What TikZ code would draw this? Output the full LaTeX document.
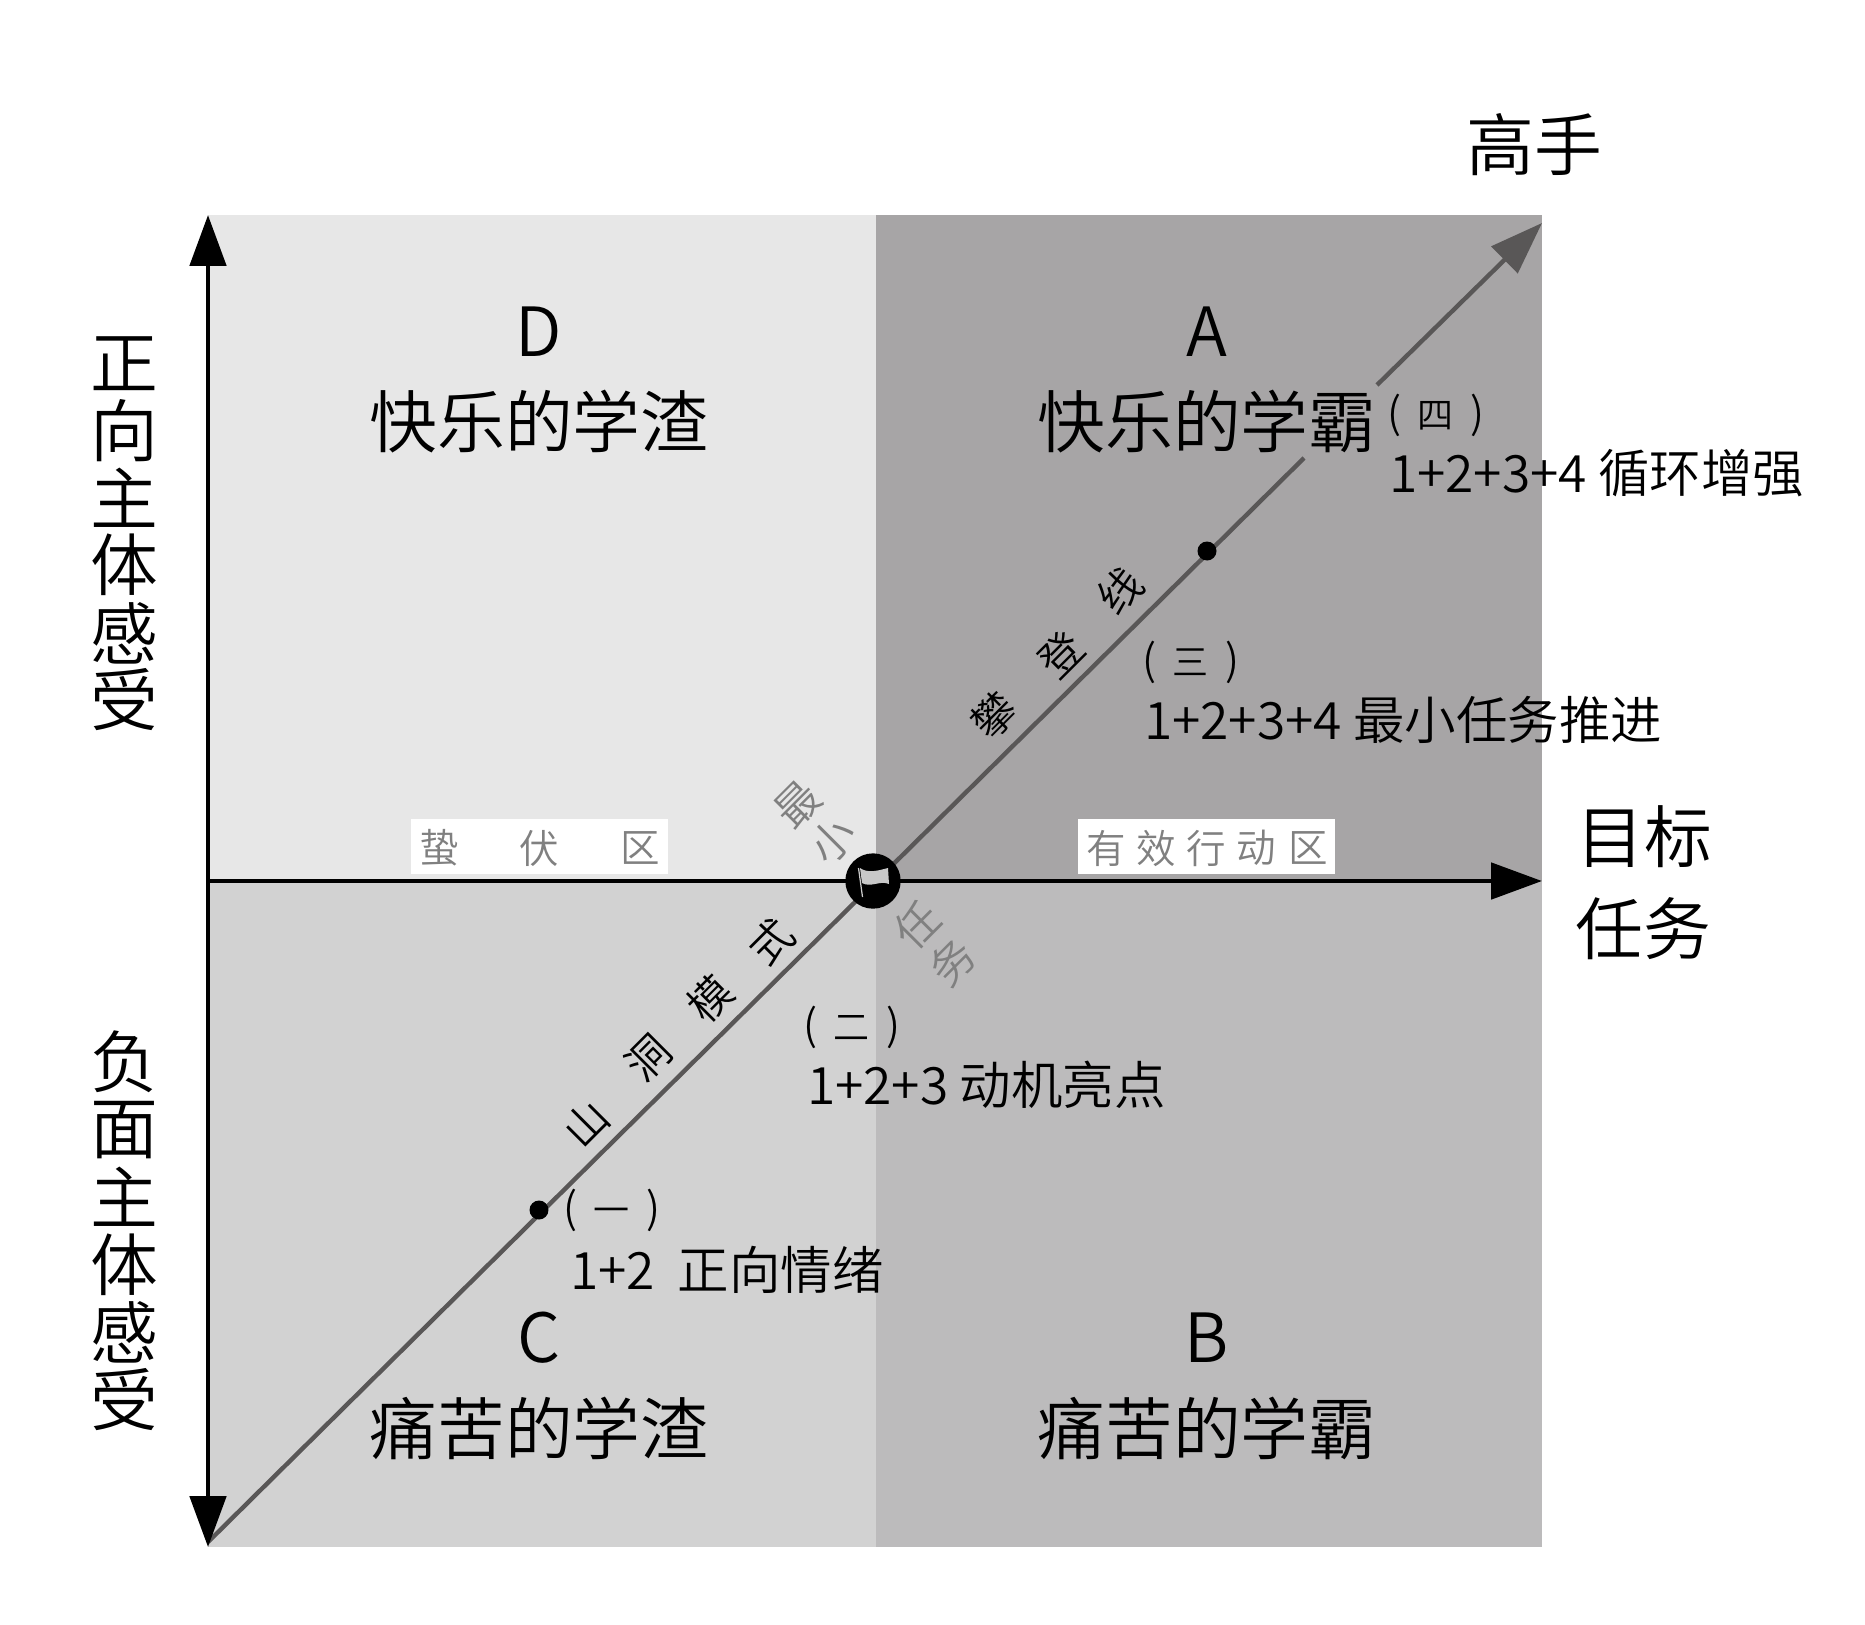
\documentclass[tikz,border=0pt]{standalone}
\usepackage{fontspec}
\usetikzlibrary{arrows.meta}
\setmainfont{Noto Sans CJK SC DemiLight}
\definecolor{qD}{HTML}{E7E7E7}
\definecolor{qA}{HTML}{A7A5A6}
\definecolor{qC}{HTML}{D2D2D2}
\definecolor{qB}{HTML}{BCBBBC}
\definecolor{diag}{HTML}{595757}
\definecolor{lab}{HTML}{808080}
\definecolor{flagcol}{HTML}{C8C8C8}
\newcommand{\fs}[1]{\fontsize{#1}{#1}\selectfont}
\newcommand{\stagetext}[1]{{\fs{24}(}\hspace{9.5pt}#1\hspace{9.5pt}{\fs{24})}}
\tikzset{
  x=0.02cm,y=-0.02cm,
  txt/.style={inner sep=0pt,outer sep=0pt,text=black},
  big/.style={txt,font=\fs{38.6}},
  mid/.style={txt,anchor=west,font=\fs{29.3}},
  sm/.style={txt,anchor=west,font=\fs{20.5}},
  rot/.style={txt,rotate=45,font=\fs{24.5}},
  grayrot/.style={txt,rotate=45,font=\fs{25},text=lab},
  tag/.style={txt,font=\fs{22.5},text=lab},
  tagbox/.style={fill=white,draw=none},
  axisline/.style={line width=2.8pt,black},
  axisarrow/.style={axisline,-{Triangle[length=29pt,width=20.5pt]}},
  axisboth/.style={axisline,{Triangle[length=29pt,width=20.5pt]}-{Triangle[length=29pt,width=20.5pt]}},
  diagline/.style={line width=2.5pt,diag},
  diagarrow/.style={diagline,-{Triangle[length=30pt,width=21pt]}},
  dot/.style={circle,fill=black,inner sep=0pt,minimum size=10.8pt},
}
\begin{document}
\begin{tikzpicture}
\useasboundingbox (0,0) rectangle (1865,1624);
\fill[white] (0,0) rectangle (1865,1624);
% quadrants
\fill[qD] (208,215) rectangle (876,881);
\fill[qA] (876,215) rectangle (1542,881);
\fill[qC] (208,881) rectangle (876,1547);
\fill[qB] (876,881) rectangle (1542,1547);
% coordinates
\coordinate (top) at (208,215);
\coordinate (bottom) at (208,1547);
\coordinate (west) at (208,881);
\coordinate (east) at (1542,881);
\coordinate (sw) at (208,1542);
\coordinate (gapa) at (1304,458);
\coordinate (gapb) at (1377,385);
\coordinate (ne) at (1542,223);
% tag boxes
\node[tagbox,minimum width=146.3pt,minimum height=31.3pt,inner sep=0pt] (zonea) at (539.5,846.5) {};
\node[tagbox,minimum width=145.8pt,minimum height=31.3pt,inner sep=0pt] (zoneb) at (1206.5,846.5) {};
% diagonals and axes
\draw[diagline] (sw) -- (gapa);
\draw[diagarrow] (gapb) -- (ne);
\draw[axisline] (west) -- (873,881);
\draw[axisarrow] (873,881) -- (east);
\draw[axisboth] (top) -- (bottom);
% centre flag
\node[circle,fill=black,inner sep=0pt,minimum size=31.5pt] (flagdisc) at (873,881) {};
\fill[flagcol] (860,868) .. controls (868,874) and (880,870) .. (888,868) -- (889,884)
  .. controls (880,880) and (871,888) .. (862,883) -- cycle;
\draw[white!80!black,line width=0.7pt] (858.5,868) -- (862.5,897);
% dots
\node[dot] (d1) at (1207,551) {};
\node[dot] (d2) at (539,1210) {};
% quadrant labels
\node[big] (lD) at (539,332) {D};
\node[big] (lDt) at (539,422) {快乐的学渣};
\node[big] (lA) at (1207,332) {A};
\node[big] (lAt) at (1207,422) {快乐的学霸};
\node[big] (lC) at (539,1338) {C};
\node[big] (lCt) at (539,1428) {痛苦的学渣};
\node[big] (lB) at (1207,1338) {B};
\node[big] (lBt) at (1207,1428) {痛苦的学霸};
% axis labels
\node[big] (v1) at (124,364) {正};
\node[big] (v2) at (124,431) {向};
\node[big] (v3) at (124,498) {主};
\node[big] (v4) at (124,565) {体};
\node[big] (v5) at (124,633) {感};
\node[big] (v6) at (124,700) {受};
\node[big] (w1) at (124,1062) {负};
\node[big] (w2) at (124,1130) {面};
\node[big] (w3) at (124,1197) {主};
\node[big] (w4) at (124,1265) {体};
\node[big] (w5) at (124,1332) {感};
\node[big] (w6) at (124,1400) {受};
\node[big] (pro) at (1534,145) {高手};
\node[big] (goal) at (1644,837) {目标};
\node[big] (task) at (1643,929) {任务};
% zone tags
\node[tag] (z1) at (439,848) {蛰};
\node[tag] (z2) at (539,848) {伏};
\node[tag] (z3) at (640,848) {区};
\node[tag] (y1) at (1106,848) {有};
\node[tag] (y2) at (1156,848) {效};
\node[tag] (y3) at (1206,848) {行};
\node[tag] (y4) at (1256,848) {动};
\node[tag] (y5) at (1308,848) {区};
% stage labels
\node[sm] (s4) at (1387,415) {\stagetext{四}};
\node[mid] (t4) at (1389,473) {1+2+3+4 循环增强};
\node[sm] (s3) at (1142,662) {\stagetext{三}};
\node[mid] (t3) at (1144,720) {1+2+3+4 最小任务推进};
\node[sm] (s2) at (803,1027) {\stagetext{二}};
\node[mid] (t2) at (807,1085) {1+2+3 动机亮点};
\node[sm] (s1) at (563,1210) {\stagetext{一}};
\node[mid] (t1) at (570,1270) {1+2\hspace{0.45em}正向情绪};
% rotated labels
\node[rot] (r1) at (586,1124) {山};
\node[rot] (r2) at (648,1058) {洞};
\node[rot] (r3) at (710,999) {模};
\node[rot] (r4) at (771,942) {式};
\node[rot] (r5) at (994,716) {攀};
\node[rot] (r6) at (1061,654) {登};
\node[rot] (r7) at (1120,591) {线};
\node[grayrot] (g1) at (798,805) {最};
\node[grayrot] (g2) at (832,840) {小};
\node[grayrot] (g3) at (917,925) {任};
\node[grayrot] (g4) at (952,962) {务};
\end{tikzpicture}
\end{document}
